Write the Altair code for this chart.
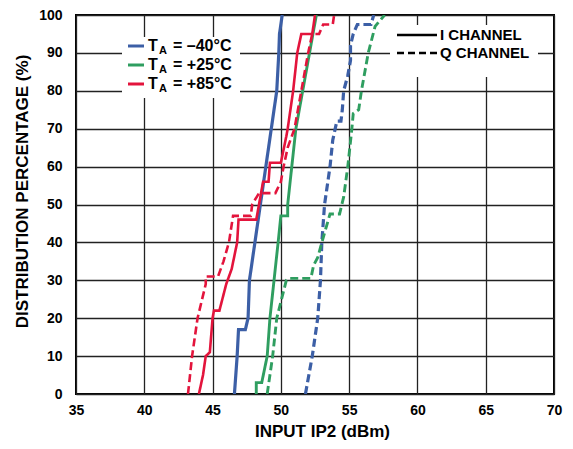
import altair as alt
import pandas as pd

# ---------------- data ----------------
temps = ["-40", "+25", "+85"]
channels = ["I", "Q"]
legend_labels = ["= \u201340\u00b0C", "= +25\u00b0C", "= +85\u00b0C"]
channel_labels = ["I CHANNEL", "Q CHANNEL"]
x_ticks = [35, 40, 45, 50, 55, 60, 65, 70]
y_ticks = [0, 10, 20, 30, 40, 50, 60, 70, 80, 90, 100]

m40_i_x = [46.6, 46.8, 46.9, 47.4, 47.6, 47.7, 48.1, 48.5, 48.9, 49.3, 49.7, 49.85, 49.9, 50.1]
m40_i_y = [0, 10, 17, 17, 20, 30, 40, 50, 60, 70, 80, 90, 95, 100]

p25_i_x = [48.2, 48.2, 48.6, 49.0, 49.2, 49.5, 49.8, 50.0, 50.5, 50.5, 50.8, 51.1, 51.6, 52.1, 52.6]
p25_i_y = [0, 3, 3, 10, 20, 30, 40, 47, 47, 50, 60, 70, 80, 90, 100]

p85_i_x = [44.0, 44.3, 44.5, 44.8, 45.0, 45.1, 45.5, 46.0, 46.4, 46.8, 46.9, 48.2, 48.4, 48.7, 49.1,
           49.2, 50.0, 50.4, 50.5, 50.9, 51.2, 51.5, 52.3, 52.5]
p85_i_y = [0, 5, 10, 11, 20, 22, 22, 29, 33, 40, 46, 46, 50, 56, 56,
           61, 61, 68, 70, 80, 90, 95, 95, 100]

m40_q_x = [51.8, 52.3, 52.7, 52.9, 53.0, 53.2, 53.6, 53.8, 54.1, 54.4, 54.5, 54.6, 54.9, 55.1, 55.1,
           55.3, 55.6, 56.6, 56.8]
m40_q_y = [0, 10, 20, 30, 40, 50, 60, 67, 72, 72, 75, 80, 84, 88, 92,
           95, 97.5, 97.5, 100]

p25_q_x = [49.0, 49.4, 49.7, 50.4, 50.6, 52.2, 52.4, 52.7, 53.0, 53.6, 54.3, 54.6, 54.9, 55.2, 55.3,
           55.7, 55.9, 56.4, 56.9, 57.6]
p25_q_y = [0, 10, 20, 30, 30.5, 30.5, 34, 36, 40, 47.5, 47.5, 52, 60, 70, 74,
           75, 80, 90, 97, 100]

p85_q_x = [43.2, 43.5, 43.9, 44.5, 44.5, 45.4, 45.8, 46.2, 46.5, 47.8, 47.9, 48.4, 49.6, 50.0, 50.2,
           50.5, 51.0, 51.5, 52.0, 52.3, 52.8, 53.1, 53.8, 53.9]
p85_q_y = [0, 10, 20, 29, 31, 31, 35, 40, 47, 47, 50, 53, 53, 56, 60,
           65, 70, 80, 90, 95, 95, 97.5, 97.5, 100]

series = [
    ("-40", "I", m40_i_x, m40_i_y),
    ("+25", "I", p25_i_x, p25_i_y),
    ("+85", "I", p85_i_x, p85_i_y),
    ("-40", "Q", m40_q_x, m40_q_y),
    ("+25", "Q", p25_q_x, p25_q_y),
    ("+85", "Q", p85_q_x, p85_q_y),
]

rows = []
for t, ch, xs, ys in series:
    for i, (xv, yv) in enumerate(zip(xs, ys)):
        rows.append({"x": xv, "y": yv, "temp": t, "channel": ch, "i": i})
df = pd.DataFrame(rows)

colors = ["#3C5FA6", "#2F9E60", "#E3143C"]
widths = [3.2, 2.6, 2]
FONT = "Liberation Sans"
W, H = 478, 379

one = pd.DataFrame({"a": [0]})

lines = alt.Chart(df).mark_line(clip=True, strokeCap="butt").encode(
    x=alt.X("x:Q", scale=alt.Scale(domain=[35, 70], nice=False, zero=False),
            axis=alt.Axis(values=x_ticks, title="INPUT IP2 (dBm)", grid=True,
                          ticks=False, tickSize=0, domain=False, labelPadding=9,
                          labelFontSize=14, labelFont=FONT, labelFontWeight="bold",
                          labelColor="black", titleFont=FONT, titleFontSize=17,
                          titleFontWeight="bold", titleColor="black",
                          titleX=246, titleAlign="center",
                          titleY=37, titleBaseline="middle", labelFlush=False)),
    y=alt.Y("y:Q", scale=alt.Scale(domain=[0, 100], nice=False),
            axis=alt.Axis(values=y_ticks, title="DISTRIBUTION PERCENTAGE (%)", grid=True,
                          ticks=False, tickSize=0, domain=False, labelPadding=14,
                          labelFontSize=14, labelFont=FONT, labelFontWeight="bold",
                          labelColor="black", titleFont=FONT, titleFontSize=17,
                          titleFontWeight="bold", titleColor="black",
                          titleX=-54, titleY=176, titleAngle=-90,
                          titleAlign="center", titleBaseline="middle", labelFlush=False)),
    color=alt.Color("temp:N", scale=alt.Scale(domain=temps, range=colors), legend=None),
    strokeWidth=alt.StrokeWidth("temp:N", scale=alt.Scale(domain=temps, range=widths), legend=None),
    strokeDash=alt.StrokeDash("channel:N", scale=alt.Scale(domain=channels, range=[[1, 0], [8, 4]]),
                              legend=None),
    order=alt.Order("i:Q"),
)

layers = []
# legend boxes (white, hide grid)
layers.append(alt.Chart(one).mark_rect(color="white").encode(
    x=alt.value(46), x2=alt.value(164), y=alt.value(22), y2=alt.value(83)))
layers.append(alt.Chart(one).mark_rect(color="white").encode(
    x=alt.value(314), x2=alt.value(462), y=alt.value(10), y2=alt.value(62)))
layers.append(lines)

# temperature legend
for k, (lab, col, w) in enumerate(zip(legend_labels, colors, widths)):
    yy = 31 + k * 19
    layers.append(alt.Chart(one).mark_rule(color=col, strokeWidth=3).encode(
        x=alt.value(52), x2=alt.value(68), y=alt.value(yy)))
    layers.append(alt.Chart(one).mark_text(align="left", baseline="middle", font=FONT,
                                           fontSize=16, fontWeight="bold", color="black").encode(
        x=alt.value(72), y=alt.value(yy), text=alt.value("T")))
    layers.append(alt.Chart(one).mark_text(align="left", baseline="middle", font=FONT,
                                           fontSize=11, fontWeight="bold", color="black").encode(
        x=alt.value(83), y=alt.value(yy + 5), text=alt.value("A")))
    layers.append(alt.Chart(one).mark_text(align="left", baseline="middle", font=FONT,
                                           fontSize=16, fontWeight="bold", color="black").encode(
        x=alt.value(97), y=alt.value(yy), text=alt.value(lab)))

# channel legend
for k, lab in enumerate(channel_labels):
    yy = 20 + k * 18
    rule = alt.Chart(one).mark_rule(color="black", strokeWidth=2.5,
                                    strokeDash=([1, 0] if k == 0 else [7, 4]))
    layers.append(rule.encode(x=alt.value(321), x2=alt.value(361), y=alt.value(yy)))
    layers.append(alt.Chart(one).mark_text(align="left", baseline="middle", font=FONT,
                                           fontSize=15, fontWeight="bold", color="black").encode(
        x=alt.value(364), y=alt.value(yy), text=alt.value(lab)))

chart = alt.layer(*layers).properties(
    width=W, height=H,
    padding={"left": 68, "top": 7, "right": 10, "bottom": 47},
    autosize="none",
).configure_view(stroke="black", strokeWidth=2).configure_axis(
    gridColor="#222222", gridWidth=1.3, gridOpacity=1
)

chart.save("out.html", embed_options={"renderer": "svg", "actions": False})
